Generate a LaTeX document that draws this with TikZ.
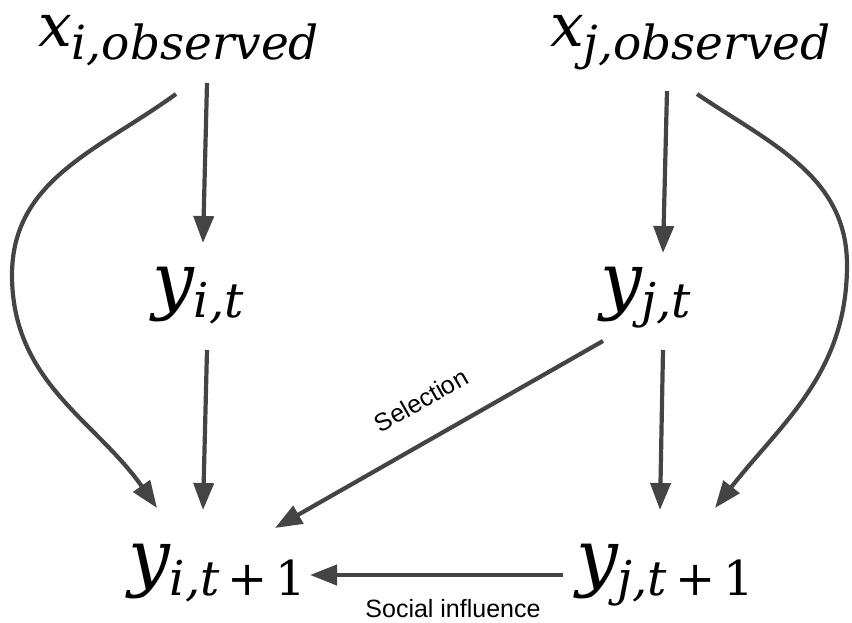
\documentclass[tikz,border=0pt]{standalone}
\usepackage{fontspec}
\usetikzlibrary{arrows.meta}
\setmainfont{Liberation Sans}
\newfontfamily\varfont{DejaVu Serif}

% variable with a lowered subscript: #1 base size, #2 base, #3 subscript size, #4 subscript
\newcommand\varlbl[4]{{\fontsize{#1}{#1}\selectfont\varfont\itshape #2}\raisebox{-13pt}{\fontsize{#3}{#3}\selectfont\varfont\itshape #4}}

\definecolor{arrowgray}{HTML}{444444}

\tikzset{
  var/.style={inner sep=0pt, outer sep=0pt, anchor=base west},
  link/.style={draw=arrowgray, line width=4.2pt, -{Triangle[length=27pt,width=20pt]}},
  tag/.style={inner sep=0pt, font=\fontsize{25}{25}\selectfont, text=black}
}

\begin{document}
\begin{tikzpicture}[x=1pt,y=1pt]
  \useasboundingbox (0,0) rectangle (852,-623);

  % variables
  \node[var] (xi)   at (38,-47)   {\varlbl{60}{x}{47}{i,observed}};
  \node[var] (xj)   at (550,-47)  {\varlbl{60}{x}{47}{j,observed}};
  \node[var] (yit)  at (152,-305) {\varlbl{74}{y}{48}{i,t}};
  \node[var] (yjt)  at (600,-305) {\varlbl{74}{y}{48}{j,t}};
  \node[var] (yit1) at (128,-582) {\varlbl{74}{y}{48}{i,t\upshape\,+\,1}};
  \node[var] (yjt1) at (576,-582) {\varlbl{74}{y}{48}{j,t\upshape\,+\,1}};

  % observed traits to current and next outcomes
  \draw[link] ([shift={(169,-36)}]xi.base west) -- ([shift={(51,62)}]yit.base west);
  \draw[link] ([shift={(138,-47)}]xi.base west)
      to[out=216,in=90] (12,-275)
      to[out=270,in=125] ([shift={(29,74)}]yit1.base west);
  \draw[link] ([shift={(117,-44)}]xj.base west) -- ([shift={(63,52)}]yjt.base west);
  \draw[link] ([shift={(147,-47)}]xj.base west)
      to[out=326,in=90] (847,-265)
      to[out=270,in=52] ([shift={(139,74)}]yjt1.base west);

  % persistence over time
  \draw[link] ([shift={(55,-45)}]yit.base west) -- ([shift={(75,72)}]yit1.base west);
  \draw[link] ([shift={(63,-45)}]yjt.base west) -- ([shift={(84,72)}]yjt1.base west);

  % selection and social influence
  \draw[link] ([shift={(3,-36)}]yjt.base west) -- ([shift={(147,54)}]yit1.base west);
  \draw[link] ([shift={(-13,7)}]yjt1.base west) -- ([shift={(182,7)}]yit1.base west);

  \node[tag, rotate=29.7] (sel) at (421,-400) {Selection};
  \node[tag, anchor=base] (soc) at (453,-617) {Social influence};
\end{tikzpicture}
\end{document}
